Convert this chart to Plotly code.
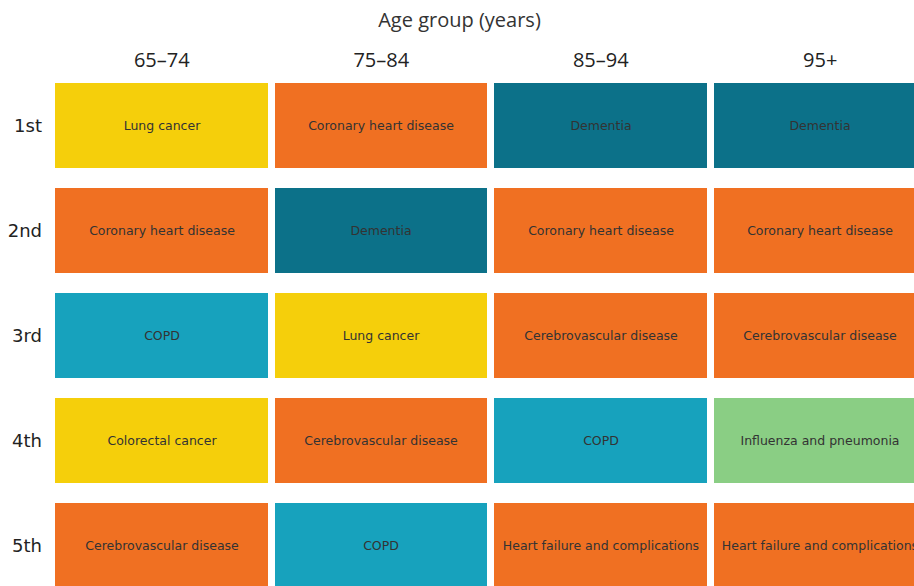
import plotly.graph_objects as go

age_groups = ["65–74", "75–84", "85–94", "95+"]
ranks = ["1st", "2nd", "3rd", "4th", "5th"]
causes_65_74 = ["Lung cancer", "Coronary heart disease", "COPD", "Colorectal cancer", "Cerebrovascular disease"]
causes_75_84 = ["Coronary heart disease", "Dementia", "Lung cancer", "Cerebrovascular disease", "COPD"]
causes_85_94 = ["Dementia", "Coronary heart disease", "Cerebrovascular disease", "COPD", "Heart failure and complications"]
causes_95p = ["Dementia", "Coronary heart disease", "Cerebrovascular disease", "Influenza and pneumonia", "Heart failure and complications"]

cause_groups = {
    "Lung cancer": 0, "Colorectal cancer": 0,
    "Coronary heart disease": 1, "Cerebrovascular disease": 1, "Heart failure and complications": 1,
    "Dementia": 2,
    "COPD": 3,
    "Influenza and pneumonia": 4,
}
group_colors = ["#F5CF0B", "#F07022", "#0C7189", "#17A2BD", "#8ACE84"]

columns = [causes_65_74, causes_75_84, causes_85_94, causes_95p]
z = [[cause_groups[col[r]] for col in columns] for r in range(len(ranks))]
text = [[col[r] for col in columns] for r in range(len(ranks))]

n = len(group_colors)
colorscale = []
for i, c in enumerate(group_colors):
    colorscale.append([i / n, c])
    colorscale.append([(i + 1) / n, c])

fig = go.Figure(go.Heatmap(
    z=z, x=age_groups, y=ranks, text=text,
    texttemplate="%{text}",
    textfont=dict(family="DejaVu Sans, sans-serif", size=12.5, color="#333333"),
    colorscale=colorscale, zmin=-0.5, zmax=n - 0.5,
    showscale=False, xgap=7, ygap=20, hoverinfo="text",
))

W, H = 914, 586
left, top = 52, 73
pitch_x = 219.5
pitch_y = 105
x_end = -0.5 + (W - left) / pitch_x
y_end = -0.5 + (H - top) / pitch_y

fig.update_layout(
    width=W, height=H,
    margin=dict(l=left, r=0, t=top, b=0, autoexpand=False),
    paper_bgcolor="white", plot_bgcolor="white",
    title=dict(text="Age group (years)", x=459.5 / W, xref="container",
               xanchor="center", y=1 - 20 / H, yanchor="middle",
               font=dict(family="Open Sans, sans-serif", size=20, color="#333333")),
    xaxis=dict(side="top", range=[-0.5, x_end], showgrid=False, zeroline=False,
               automargin=False,
               ticks="", tickfont=dict(family="Open Sans, sans-serif", size=20, color="#222222"),
               ticklabelstandoff=1, fixedrange=True),
    yaxis=dict(autorange=False, range=[y_end, -0.5], showgrid=False, zeroline=False,
               automargin=False,
               ticks="", tickfont=dict(family="DejaVu Sans, sans-serif", size=18, color="#222222"),
               ticklabelstandoff=9, fixedrange=True),
)

# remove the default page margin so the figure fills the window exactly
fig.write_html("out.html",
               config={"displayModeBar": False},
               post_script="document.body.style.margin='0';document.body.style.overflow='hidden';")
